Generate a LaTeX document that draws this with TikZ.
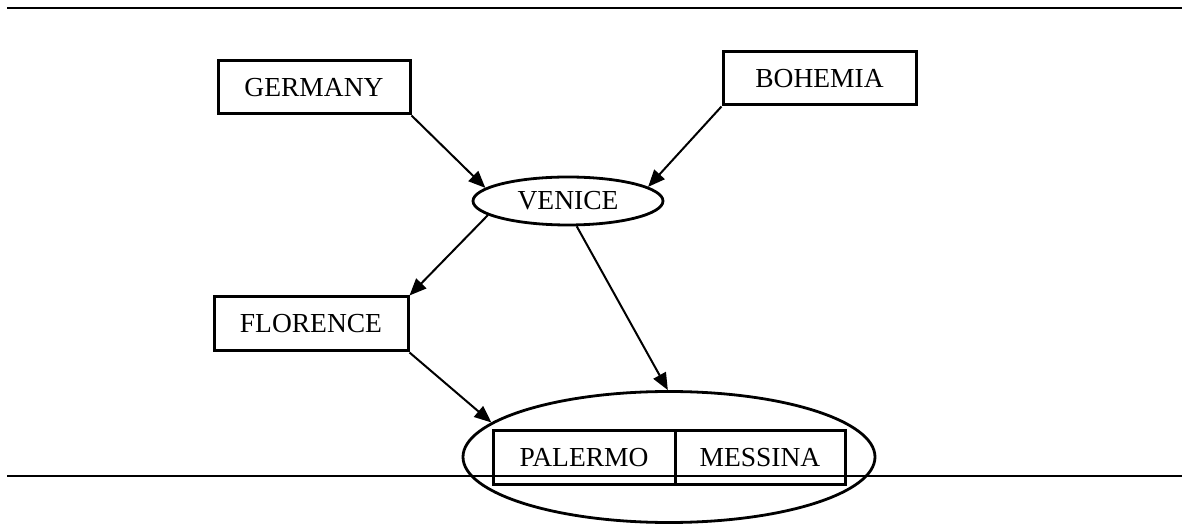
\documentclass[tikz,border=0pt]{standalone}
\usepackage{fontspec}
\setmainfont{Liberation Serif}
\usetikzlibrary{arrows.meta,shapes.geometric}
\begin{document}
\begin{tikzpicture}[x=1pt,y=1pt,
  lbl/.style={font=\fontsize{27.5}{30}\selectfont, inner sep=0pt},
  boxnode/.style={lbl, draw, line width=3pt, rectangle},
  ellnode/.style={lbl, draw, line width=2.8pt, ellipse},
  conn/.style={line width=2pt, -{Triangle[length=17pt,width=14pt]}},
  rule/.style={line width=2.2pt}]
\useasboundingbox (0,0) rectangle (1182,524);
\node[boxnode, minimum width=192pt, minimum height=53pt] (germ) at (314,436.5) {GERMANY};
\node[boxnode, minimum width=193pt, minimum height=53pt] (boh) at (819.5,445.5) {BOHEMIA};
\node[ellnode, minimum width=190pt, minimum height=48pt] (ven) at (568,323) {VENICE};
\node[boxnode, minimum width=194pt, minimum height=54pt] (flor) at (311,200) {FLORENCE};
\node[ellnode, minimum width=412pt, minimum height=131pt] (big) at (669,67) {};
\node[boxnode, minimum width=182pt, minimum height=54pt] (pal) at (584,66) {PALERMO};
\node[boxnode, minimum width=170pt, minimum height=54pt] (mes) at (760,66) {MESSINA};
\coordinate (tl) at (7,516);
\coordinate (tr) at (1182,516);
\coordinate (bl) at (7,48);
\coordinate (br) at (1182,48);
\draw[rule] (tl) -- (tr);
\draw[rule] (bl) -- (br);
\draw[conn] (germ.south east) -- (ven.171);
\draw[conn] (boh.south west) -- (ven.10);
\draw[conn] (ven.190) -- (flor.north east);
\draw[conn] (ven.-71) -- (big.91);
\draw[conn] (flor.south east) -- (big.169);
\end{tikzpicture}
\end{document}
